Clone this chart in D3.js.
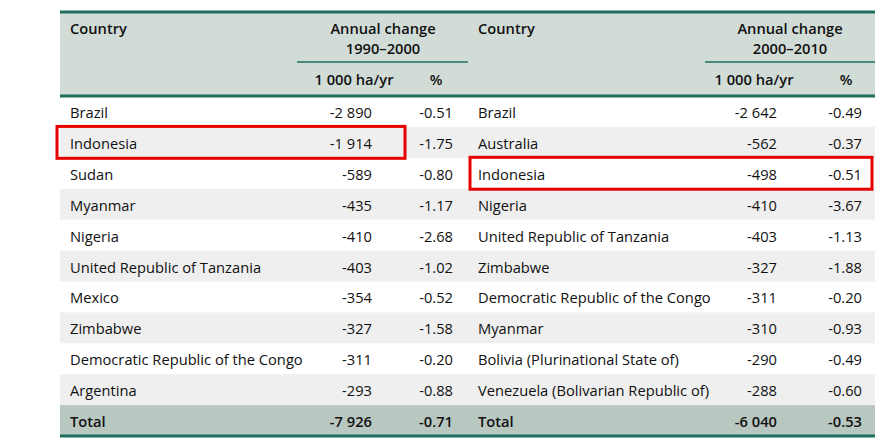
<!DOCTYPE html>
<html>
<head>
<meta charset="utf-8">
<script src="https://cdn.jsdelivr.net/npm/d3@7"></script>
<style>
  body { margin: 0; background: #fff; }
  text { font-family: "Open Sans", "Noto Sans", sans-serif; font-size: 14.7px; fill: #111; }
</style>
</head>
<body>
<svg width="881" height="448"></svg>
<script>
// Table data
const countries9000 = ["Brazil", "Indonesia", "Sudan", "Myanmar", "Nigeria",
  "United Republic of Tanzania", "Mexico", "Zimbabwe", "Democratic Republic of the Congo", "Argentina"];
const ha9000 = ["-2 890", "-1 914", "-589", "-435", "-410", "-403", "-354", "-327", "-311", "-293"];
const pct9000 = ["-0.51", "-1.75", "-0.80", "-1.17", "-2.68", "-1.02", "-0.52", "-1.58", "-0.20", "-0.88"];

const countries0010 = ["Brazil", "Australia", "Indonesia", "Nigeria", "United Republic of Tanzania",
  "Zimbabwe", "Democratic Republic of the Congo", "Myanmar", "Bolivia (Plurinational State of)",
  "Venezuela (Bolivarian Republic of)"];
const ha0010 = ["-2 642", "-562", "-498", "-410", "-403", "-327", "-311", "-310", "-290", "-288"];
const pct0010 = ["-0.49", "-0.37", "-0.51", "-3.67", "-1.13", "-1.88", "-0.20", "-0.93", "-0.49", "-0.60"];

const totals = { ha9000: "-7 926", pct9000: "-0.71", ha0010: "-6 040", pct0010: "-0.53" };
const highlighted = [{ part: 0, row: 1 }, { part: 1, row: 2 }];

const svg = d3.select("svg");
const left = 60, right = 875;
const headTop = 12, headBottom = 96;

// rows 0..9 are countries, 10 is total
const y = d3.scaleBand()
    .domain(d3.range(11))
    .range([headBottom, 436])
    .paddingInner(0);

// header background
svg.append("rect")
    .attr("x", left).attr("y", headTop)
    .attr("width", right - left).attr("height", headBottom - headTop)
    .attr("fill", "#d2dcd7");

// row stripes
svg.append("g")
  .selectAll("rect")
  .data(d3.range(10).filter(i => i % 2 === 1))
  .join("rect")
    .attr("x", left).attr("y", i => y(i))
    .attr("width", right - left).attr("height", y.bandwidth())
    .attr("fill", "#efefef");

// total row background
svg.append("rect")
    .attr("x", left).attr("y", y(10))
    .attr("width", right - left).attr("height", y.bandwidth())
    .attr("fill", "#b9c7c1");

// rules
const rule = (x1, x2, yy, w) => svg.append("line")
    .attr("x1", x1).attr("x2", x2).attr("y1", yy).attr("y2", yy)
    .attr("stroke", "#1d6e5c").attr("stroke-width", w);
rule(left, right, headTop, 3);
rule(left, right, headBottom, 3);
rule(left, right, 436, 3);
rule(297, 468, 62, 1.5);
rule(705, right, 62, 1.5);

// column layout for the two halves
const parts = [
  { countries: countries9000, ha: ha9000, pct: pct9000, tHa: totals.ha9000, tPct: totals.pct9000,
    cx: 70, haX: 372, pctX: 453, headX: 383, unitX: 354, pctHX: 436, period: "1990–2000" },
  { countries: countries0010, ha: ha0010, pct: pct0010, tHa: totals.ha0010, tPct: totals.pct0010,
    cx: 478, haX: 777, pctX: 862, headX: 790, unitX: 754, pctHX: 846, period: "2000–2010" }
];

parts.forEach(p => {
  const g = svg.append("g");
  const head = g.append("g").style("font-weight", 600);
  head.append("text").attr("x", p.cx).attr("y", 34).text("Country");
  head.append("text").attr("x", p.headX).attr("y", 34).attr("text-anchor", "middle").text("Annual change");
  head.append("text").attr("x", p.headX).attr("y", 54).attr("text-anchor", "middle").text(p.period);
  head.append("text").attr("x", p.unitX).attr("y", 85).attr("text-anchor", "middle").text("1 000 ha/yr");
  head.append("text").attr("x", p.pctHX).attr("y", 85).attr("text-anchor", "middle").text("%");

  const rows = g.append("g")
    .selectAll("g")
    .data(p.countries.map((c, i) => ({ c, ha: p.ha[i], pct: p.pct[i], i })))
    .join("g")
      .attr("transform", d => `translate(0,${y(d.i) + y.bandwidth() / 2 + 6.5})`);
  rows.append("text").attr("x", p.cx).text(d => d.c);
  rows.append("text").attr("x", p.haX).attr("text-anchor", "end").text(d => d.ha);
  rows.append("text").attr("x", p.pctX).attr("text-anchor", "end").text(d => d.pct);

  const tot = g.append("g")
      .attr("transform", `translate(0,${y(10) + y.bandwidth() / 2 + 6.5})`)
      .style("font-weight", 600);
  tot.append("text").attr("x", p.cx).text("Total");
  tot.append("text").attr("x", p.haX).attr("text-anchor", "end").text(p.tHa);
  tot.append("text").attr("x", p.pctX).attr("text-anchor", "end").text(p.tPct);
});

// red highlight boxes
const boxX = [[57, 405], [470, 872]];
svg.append("g")
  .selectAll("rect")
  .data(highlighted)
  .join("rect")
    .attr("x", d => boxX[d.part][0])
    .attr("y", d => y(d.row) - 0.5)
    .attr("width", d => boxX[d.part][1] - boxX[d.part][0])
    .attr("height", y.bandwidth() + 1)
    .attr("fill", "none")
    .attr("stroke", "#e60000")
    .attr("stroke-width", 3);
</script>
</body>
</html>
